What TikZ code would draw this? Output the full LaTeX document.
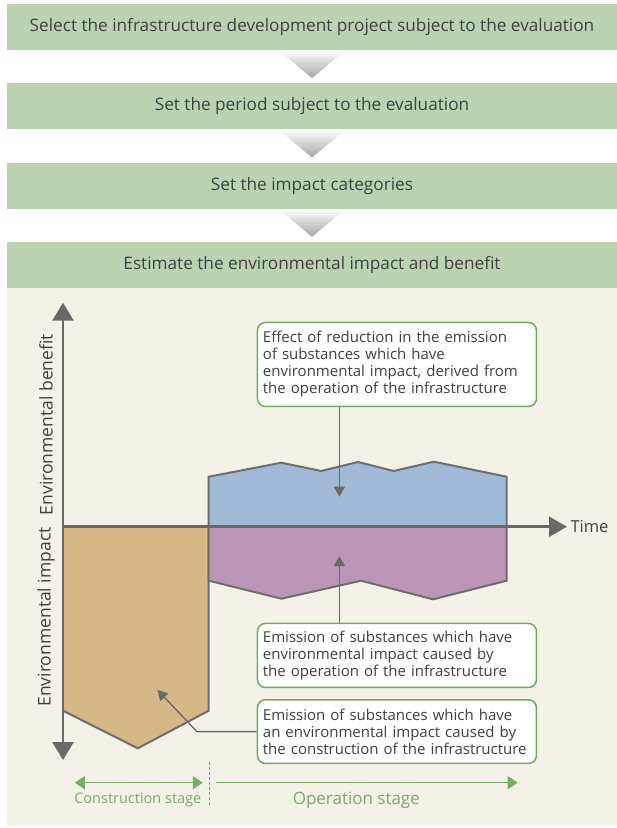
\documentclass[tikz,border=0pt]{standalone}
\usepackage{fontspec}
\setmainfont{Open Sans}
\usetikzlibrary{arrows.meta,positioning,calc}
\definecolor{stepgreen}{RGB}{188,211,178}
\definecolor{panelbeige}{RGB}{244,241,233}
\definecolor{textgray}{RGB}{64,64,64}
\definecolor{edgegray}{RGB}{110,110,110}
\definecolor{axisgray}{RGB}{105,105,105}
\definecolor{callgreen}{RGB}{118,168,100}
\definecolor{stagegreen}{RGB}{122,171,105}
\definecolor{tanfill}{RGB}{214,184,135}
\definecolor{bluefill}{RGB}{160,185,214}
\definecolor{purplefill}{RGB}{188,150,182}

\begin{document}
\begin{tikzpicture}[x=1pt,y=-1pt,>=Latex,
  stepbox/.style={fill=stepgreen,minimum width=610pt,minimum height=46pt,inner sep=0pt,
    text=textgray,font=\fontsize{17.2}{19}\selectfont},
  callout/.style={draw=callgreen,line width=1.5pt,fill=white,rounded corners=8pt,
    anchor=north west,text width=268pt,inner xsep=5.5pt,inner ysep=0pt,align=left,
    text=textgray,font=\fontsize{15}{17}\selectfont},
  outline/.style={draw=edgegray,line width=2pt},
  axisline/.style={draw=axisgray,line width=2.5pt},
  pointer/.style={draw=axisgray,line width=1.3pt,-{Triangle[width=11pt,length=10pt]}},
  stagearrow/.style={draw=stagegreen,line width=1.5pt},
  stagetext/.style={text=stagegreen},
  axistext/.style={rotate=90,text=textgray,font=\fontsize{17.5}{19}\selectfont}]
\useasboundingbox (0,0) rectangle (617,828);
\fill[panelbeige] (7,285.5) rectangle (617,826);

% four steps with shaded pointers between them
\node[stepbox] (select) at (312,27) {Select the infrastructure development project subject to the evaluation};
\node[stepbox,below=33pt of select] (period) {Set the period subject to the evaluation};
\node[stepbox,below=33pt of period] (categ) {Set the impact categories};
\node[stepbox,below=33pt of categ] (estim) {Estimate the environmental impact and benefit};
\foreach \a/\b in {select/period,period/categ,categ/estim}
  \shade[top color=gray!6,bottom color=gray!70] ($(\a.south)+(-31,2)$) -- ($(\a.south)+(31,2)$) -- ($(\b.north)+(0,-5)$) -- cycle;

% impact and benefit areas
\fill[tanfill] (63,526.7) -- (208.7,526.7) -- (208.7,710.7) -- (137.8,748.3) -- (63,710.7) -- cycle;
\draw[outline] (208.7,526.7) -- (208.7,710.7) -- (137.8,748.3) -- (63,710.7);
\draw[outline,fill=bluefill] (208.7,526.7) -- (208.7,476.7) -- (281.5,462.7) -- (321,471) -- (358,462) -- (393.7,471) -- (433.9,461.7) -- (506.7,476.7) -- (506.7,526.7) -- cycle;
\draw[outline,fill=purplefill] (208.7,526.7) -- (506.7,526.7) -- (506.7,580.7) -- (433,599.3) -- (361,580.7) -- (281.5,598.7) -- (208.7,580.7) -- cycle;

% axes
\coordinate (origin) at (63,526.7);
\coordinate (ytop) at (63,302.7);
\coordinate (ybot) at (63,760);
\coordinate (xend) at (567,526.7);
\draw[axisline,{Triangle[width=21pt,length=18pt]}-{Triangle[width=21pt,length=18pt]}] (ybot) -- (ytop);
\draw[axisline,-{Triangle[width=20pt,length=18pt]}] (origin) -- (xend);
\node[right=0pt of xend,text=textgray,font=\fontsize{16.5}{18}\selectfont] (time) {Time};
\node[axistext] (benlabel) at (46,424.5) {Environmental benefit};
\node[axistext] (implabel) at (46,617) {Environmental impact};

% callouts
\node[callout,minimum height=84pt] (benefit) at (256.7,321.7) {Effect of reduction in the emission\\ of substances which have\\ environmental impact, derived from\\ the operation of the infrastructure};
\node[callout,minimum height=64pt] (opimp) at (256.7,622.7) {Emission of substances which have\\ environmental impact caused by\\ the operation of the infrastructure};
\node[callout,minimum height=63.7pt] (conimp) at (256.7,699) {Emission of substances which have\\ an environmental impact caused by\\ the construction of the infrastructure};
\coordinate (bluept) at (339.4,496.7);
\coordinate (purplept) at (339.4,556);
\coordinate (tanpt) at (157.5,690);
\draw[pointer] (benefit.south -| bluept) -- (bluept);
\draw[pointer] (opimp.north -| purplept) -- (purplept);
\draw[pointer] (conimp.west) -- ++(-59.8,0) -- (tanpt);

% stages
\coordinate (cstart) at (74.8,782.7);
\coordinate (cend) at (202.8,782.7);
\coordinate (ostart) at (215.7,782.7);
\coordinate (oend) at (517.7,782.7);
\draw[stagearrow,{Triangle[width=13pt,length=10pt]}-{Triangle[width=13pt,length=10pt]}] (cstart) -- (cend);
\draw[stagearrow,-{Triangle[width=13pt,length=10pt]}] (ostart) -- (oend);
\draw[stagegreen,line width=0.8pt,dash pattern=on 3pt off 2pt] (209.4,761.7) -- (209.4,805);
\node[stagetext,font=\fontsize{14.5}{17}\selectfont] (cstage) at (137.8,800) {Construction stage};
\node[stagetext,font=\fontsize{17}{19}\selectfont] (ostage) at (356.3,800) {Operation stage};
\end{tikzpicture}
\end{document}
